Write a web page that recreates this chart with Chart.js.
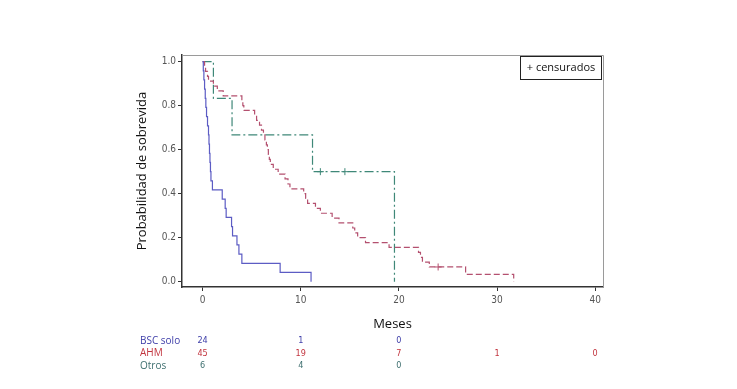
<!DOCTYPE html>
<html><head><meta charset="utf-8">
<script src="https://cdn.jsdelivr.net/npm/chart.js@4.4.0/dist/chart.umd.min.js"></script>
<style>html,body{margin:0;padding:0;background:#fff}#wrap{width:737px;height:389px}</style>
</head><body><div id="wrap"><canvas id="c" width="737" height="389"></canvas></div>
<script>
// ---- data ----
const xTicks = [0, 10, 20, 30, 40];
const yTicks = [0, 0.2, 0.4, 0.6, 0.8, 1.0];

const bscTimes = [0, 0.07, 0.13, 0.2, 0.27, 0.33, 0.4, 0.5, 0.6, 0.65, 0.7, 0.75, 0.8, 0.85, 1.0, 2.0, 2.3, 2.4, 2.95, 3.05, 3.5, 3.7, 4.0, 7.9, 11.05];
const bscSurv  = [1, 0.958, 0.917, 0.875, 0.833, 0.792, 0.75, 0.708, 0.667, 0.625, 0.583, 0.542, 0.5, 0.458, 0.417, 0.375, 0.333, 0.292, 0.25, 0.208, 0.167, 0.125, 0.083, 0.042, 0];

const ahmTimes = [0, 0.2, 0.3, 0.5, 0.6, 1.1, 1.5, 2.1, 4.0, 4.1, 4.2, 5.3, 5.5, 5.8, 6.0, 6.2, 6.35, 6.5, 6.6, 6.7, 6.8, 6.9, 7.2, 7.7, 8.4, 8.7, 8.9, 10.3, 10.5, 10.7, 11.5, 12.0, 13.2, 13.9, 15.3, 15.5, 15.8, 16.6, 19.0, 22.0, 22.2, 22.4, 23.1, 26.8, 31.7];
const ahmSurv  = [1, 0.978, 0.956, 0.933, 0.911, 0.889, 0.867, 0.844, 0.822, 0.8, 0.778, 0.756, 0.733, 0.711, 0.689, 0.667, 0.644, 0.622, 0.6, 0.578, 0.556, 0.533, 0.511, 0.489, 0.467, 0.444, 0.422, 0.4, 0.378, 0.356, 0.333, 0.311, 0.289, 0.267, 0.244, 0.222, 0.2, 0.178, 0.156, 0.133, 0.111, 0.089, 0.067, 0.033, 0];
const ahmCensTimes = [24.0];
const ahmCensSurv  = [0.067];

const otrosTimes = [0, 1.1, 3.0, 11.2, 19.55];
const otrosSurv  = [1, 0.833, 0.667, 0.5, 0];
const otrosCensTimes = [12.0, 14.5];
const otrosCensSurv  = [0.5, 0.5];

const groupNames = ['BSC solo', 'AHM', 'Otros'];
const riskTimes = [0, 10, 20, 30, 40];
const bscRisk   = [24, 1, 0, null, null];
const ahmRisk   = [45, 19, 7, 1, 0];
const otrosRisk = [6, 4, 0, null, null];

const legendText = '+ censurados';
const xTitle = 'Meses';
const yTitle = 'Probabilidad de sobrevida';

// ---- styles ----
const C_BSC = '#5c5cc4', C_AHM = '#b4506f', C_OTR = '#3f8878';
const L_BSC = '#3d3da8', L_AHM = '#c2343e', L_OTR = '#3e6f6f';
const pts = (xs, ys) => xs.map((x, i) => ({x, y: ys[i]}));

const extras = {
  id: 'extras',
  afterDraw(chart) {
    const {ctx, chartArea: a, scales} = chart;
    ctx.save();
    // top & right frame
    ctx.strokeStyle = '#9a9a9a'; ctx.lineWidth = 1;
    ctx.beginPath();
    ctx.moveTo(a.left, a.top + 0.5); ctx.lineTo(a.right + 0.5, a.top + 0.5); ctx.lineTo(a.right + 0.5, a.bottom);
    ctx.stroke();
    // legend box
    ctx.strokeStyle = '#222'; ctx.lineWidth = 1;
    ctx.strokeRect(520.5, 56.5, 81, 23);
    ctx.fillStyle = '#111'; ctx.font = '11px "Open Sans", sans-serif';
    ctx.textAlign = 'center'; ctx.textBaseline = 'middle';
    ctx.fillText(legendText, 561, 68);
    // at-risk table
    const rows = [bscRisk, ahmRisk, otrosRisk];
    const labCol = [L_BSC, L_AHM, L_OTR];
    const rowY = [341, 353.5, 366];
    rows.forEach((r, i) => {
      ctx.fillStyle = labCol[i];
      ctx.font = '10px "Open Sans", sans-serif';
      ctx.textAlign = 'left';
      ctx.fillText(groupNames[i], 140, rowY[i]);
      ctx.font = '9px "Liberation Sans Narrow", "DejaVu Sans Condensed", sans-serif';
      ctx.textAlign = 'center';
      r.forEach((v, j) => {
        if (v === null) return;
        ctx.fillText(String(v), scales.x.getPixelForValue(riskTimes[j]), rowY[i]);
      });
    });
    ctx.restore();
  }
};

new Chart(document.getElementById('c'), {
  type: 'scatter',
  data: {
    datasets: [
      {label: 'BSC solo', data: pts(bscTimes, bscSurv), showLine: true, stepped: true, borderColor: C_BSC, borderWidth: 1.2, pointRadius: 0, fill: false},
      {label: 'AHM', data: pts(ahmTimes, ahmSurv), showLine: true, stepped: true, borderColor: C_AHM, borderWidth: 1.2, borderDash: [6, 3], pointRadius: 0, fill: false},
      {label: 'Otros', data: pts(otrosTimes, otrosSurv), showLine: true, stepped: true, borderColor: C_OTR, borderWidth: 1.2, borderDash: [9, 3, 2, 3], pointRadius: 0, fill: false},
      {label: 'AHM cens', data: pts(ahmCensTimes, ahmCensSurv), showLine: false, pointStyle: 'cross', pointRadius: 3.5, borderColor: C_AHM, borderWidth: 1},
      {label: 'Otros cens', data: pts(otrosCensTimes, otrosCensSurv), showLine: false, pointStyle: 'cross', pointRadius: 3.5, borderColor: C_OTR, borderWidth: 1}
    ]
  },
  options: {
    responsive: false, animation: false, devicePixelRatio: 1,
    layout: {padding: {left: 130, right: 134, top: 55, bottom: 52}},
    plugins: {legend: {display: false}, tooltip: {enabled: false}},
    scales: {
      x: {
        type: 'linear', min: -2.1, max: 40.8,
        afterBuildTicks: s => { s.ticks = xTicks.map(v => ({value: v})); },
        afterFit: s => { s.height = 50; },
        ticks: {color: '#555', font: {family: '"Liberation Sans Narrow", "DejaVu Sans Condensed", sans-serif', size: 10}, padding: 3, maxRotation: 0, callback: v => String(v)},
        grid: {display: true, drawOnChartArea: false, drawTicks: true, tickLength: 4, color: '#333'},
        border: {display: true, color: '#333', width: 1.5},
        title: {display: true, text: xTitle, color: '#111', font: {family: '"Open Sans", sans-serif', size: 13}, padding: {top: 0, bottom: 5}}
      },
      y: {
        type: 'linear', min: -0.024, max: 1.03,
        afterBuildTicks: s => { s.ticks = yTicks.map(v => ({value: v})); },
        afterFit: s => { s.width = 52; },
        ticks: {color: '#555', font: {family: '"Liberation Sans Narrow", "DejaVu Sans Condensed", sans-serif', size: 10}, padding: 2, callback: v => Number(v).toFixed(1)},
        grid: {display: true, drawOnChartArea: false, drawTicks: true, tickLength: 4, color: '#333'},
        border: {display: true, color: '#333', width: 1.5},
        title: {display: true, text: yTitle, color: '#111', font: {family: '"Open Sans", sans-serif', size: 13}, padding: {top: 4, bottom: 0}}
      }
    }
  },
  plugins: [extras]
});
</script></body></html>
